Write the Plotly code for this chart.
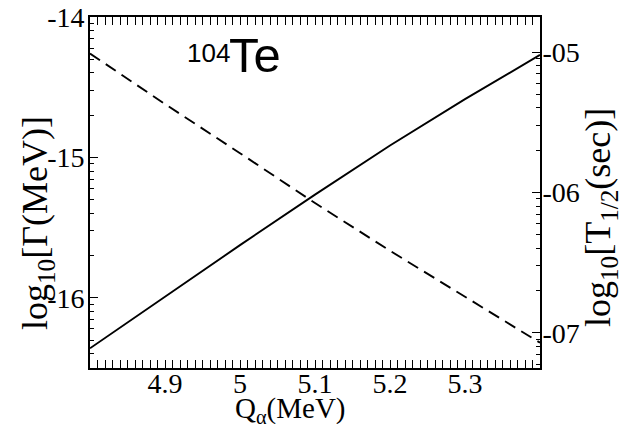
import numpy as np
import plotly.graph_objects as go

# Data
q_alpha = [4.8, 4.9, 5.0, 5.1, 5.2, 5.3, 5.4]
log_gamma = [-16.36, -15.99, -15.625, -15.265, -14.915, -14.585, -14.27]
log_thalf = [-5.01, -5.37, -5.72, -6.075, -6.415, -6.745, -7.07]

x_ticks = [4.9, 5.0, 5.1, 5.2, 5.3]
x_ticktext = ["4.9", "5", "5.1", "5.2", "5.3"]
y_ticks = [-16, -15, -14]
y_ticktext = ["-16", "-15", "-14"]
y2_ticks = [-7, -6, -5]
y2_ticktext = ["-07", "-06", "-05"]

# log-type minor ticks (as drawn in the reference)
y_minor = [n + np.log10(k) for n in (-17, -16, -15) for k in range(2, 10)]
y2_minor = [n + np.log10(k) for n in (-8, -7, -6, -5) for k in range(2, 10)]

SERIF = "Liberation Serif, Times New Roman, DejaVu Serif, serif"
SANS = "Liberation Sans, Arial, sans-serif"

fig = go.Figure()
fig.add_trace(go.Scatter(x=q_alpha, y=log_gamma, mode="lines",
                         line=dict(color="black", width=1.9), showlegend=False))
fig.add_trace(go.Scatter(x=q_alpha, y=log_thalf, mode="lines", yaxis="y2",
                         line=dict(color="black", width=1.9, dash="12px,7px"),
                         showlegend=False))

axis_common = dict(showline=True, linecolor="black", linewidth=1.8,
                   ticks="inside", ticklen=8, tickwidth=1.4, tickcolor="black",
                   showgrid=False, zeroline=False, automargin=False,
                   tickfont=dict(family=SERIF, size=28, color="black"))

fig.update_layout(
    width=623, height=424,
    margin=dict(l=90, r=83, t=17, b=56),
    paper_bgcolor="white", plot_bgcolor="white",
    xaxis=dict(range=[4.8, 5.4], tickvals=x_ticks, ticktext=x_ticktext,
               mirror="allticks", ticklabelstandoff=-11,
               minor=dict(dtick=0.01, tick0=4.8, ticks="inside", ticklen=4,
                          tickwidth=1.1, tickcolor="black", showgrid=False),
               **axis_common),
    yaxis=dict(range=[-16.5, -14], tickvals=y_ticks, ticktext=y_ticktext,
               ticklabelstandoff=-2,
               minor=dict(tickvals=y_minor, ticks="inside", ticklen=4,
                          tickwidth=1.1, tickcolor="black", showgrid=False),
               **axis_common),
    yaxis2=dict(range=[-7.25, -4.75], tickvals=y2_ticks, ticktext=y2_ticktext,
                overlaying="y", side="right", anchor="x", ticklabelstandoff=-5,
                minor=dict(tickvals=y2_minor, ticks="inside", ticklen=4,
                           tickwidth=1.1, tickcolor="black", showgrid=False),
                **axis_common),
)

fig.add_annotation(text="log<sub>10</sub>[Γ(MeV)]", xref="paper", yref="paper",
                   x=(37 - 90) / 450, y=(368 - 223) / 351, textangle=-90, showarrow=False,
                   font=dict(family=SERIF, size=36, color="black"),
                   xanchor="center", yanchor="middle")
fig.add_annotation(text="log<sub>10</sub>[T<sub>1/2</sub>(sec)]", xref="paper", yref="paper",
                   x=(600 - 90) / 450, y=(368 - 218) / 351, textangle=-90, showarrow=False,
                   font=dict(family=SERIF, size=36, color="black"),
                   xanchor="center", yanchor="middle")
fig.add_annotation(text="Q<sub>α</sub>(MeV)", xref="paper", yref="paper",
                   x=(290 - 90) / 450, y=(368 - 390) / 351, showarrow=False,
                   font=dict(family=SERIF, size=29, color="black"),
                   xanchor="center", yanchor="top")
fig.add_annotation(text="Te", xref="paper", yref="paper",
                   x=(227 - 90) / 450, y=(368 - 26) / 351, showarrow=False,
                   font=dict(family=SANS, size=49, color="black"),
                   xanchor="left", yanchor="top")
fig.add_annotation(text="104", xref="paper", yref="paper",
                   x=(185 - 90) / 450, y=(368 - 36) / 351, showarrow=False,
                   font=dict(family=SANS, size=26, color="black"),
                   xanchor="left", yanchor="top")

fig.write_html("out.html", post_script="document.body.style.margin='0';",
               config={"displayModeBar": False})
